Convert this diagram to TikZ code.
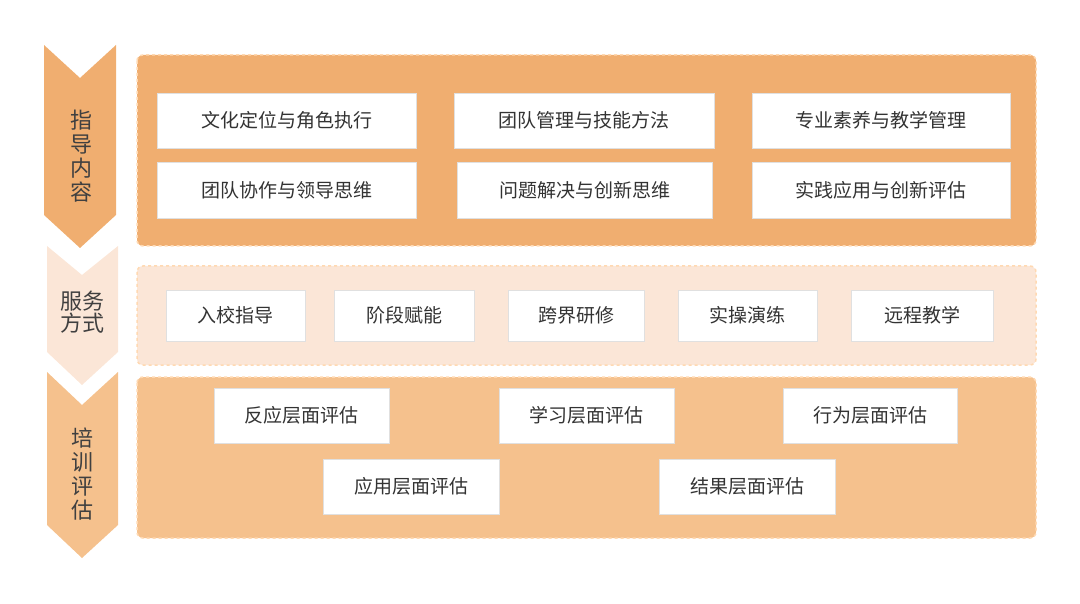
\documentclass[tikz,border=0pt]{standalone}
\usepackage{fontspec}
\setmainfont{Noto Sans CJK SC}
\usetikzlibrary{positioning}
\definecolor{deep}{HTML}{F0AE70}
\definecolor{pale}{HTML}{FBE6D7}
\definecolor{mid}{HTML}{F5C18D}
\begin{document}
\begin{tikzpicture}[x=1pt,y=-1pt]
                \tikzstyle{panel}=[draw=white!70!orange, dashed, line width=1.5pt, rounded corners=6pt]
                \tikzstyle{item}=[draw=black!12, fill=white, line width=0.8pt, font=\fontsize{19}{22}\selectfont, text=black!80, inner sep=0pt]
                \tikzstyle{side}=[font=\fontsize{22}{28}\selectfont, text=black!75, align=center]
                \useasboundingbox (0,0) rectangle (1080,604);
                % chevrons
                \fill[deep] (44,45) -- (80,78) -- (116,45) -- (116,215) -- (80,248) -- (44,215) -- cycle;
                \fill[pale] (47,246) -- (82,275) -- (118,246) -- (118,352) -- (82,385) -- (47,352) -- cycle;
                \fill[mid] (47,372) -- (82,405) -- (118,372) -- (118,525) -- (82,558) -- (47,525) -- cycle;
                \node[side] (s1) at (81,156){指\\[-4pt]导\\[-4pt]内\\[-4pt]容};
                \node[side] (s2) at (82,312){服务\\[-6pt]方式};
                \node[side] (s3) at (82,474){培\\[-4pt]训\\[-4pt]评\\[-4pt]估};
                % panels
                \draw[panel, fill=deep] (137,55) rectangle (1036,246);
                \draw[panel, fill=pale] (137,266) rectangle (1036,365);
                \draw[panel, fill=mid] (137,377) rectangle (1036,538);
                % content
                \node[item, minimum width=259, minimum height=55] (c1) at (286.5,120.5){文化定位与角色执行};
                \node[item, minimum width=260, minimum height=55] (c2) at (584,120.5){团队管理与技能方法};
                \node[item, minimum width=258, minimum height=55] (c3) at (881,120.5){专业素养与教学管理};
                \node[item, minimum width=259, minimum height=56] (c4) at (286.5,190){团队协作与领导思维};
                \node[item, minimum width=255, minimum height=56] (c5) at (584.5,190){问题解决与创新思维};
                \node[item, minimum width=258, minimum height=56] (c6) at (881,190){实践应用与创新评估};
                % service
                \node[item, minimum width=139, minimum height=51] (m1) at (235.5,315.5){入校指导};
                \node[item, minimum width=140, minimum height=51] (m2) at (404,315.5){阶段赋能};
                \node[item, minimum width=136, minimum height=51] (m3) at (576,315.5){跨界研修};
                \node[item, minimum width=139, minimum height=51] (m4) at (747.5,315.5){实操演练};
                \node[item, minimum width=142, minimum height=51] (m5) at (922,315.5){远程教学};
                % evaluation
                \node[item, minimum width=175, minimum height=55] (e1) at (301.5,415.5){反应层面评估};
                \node[item, minimum width=175, minimum height=55] (e2) at (586.5,415.5){学习层面评估};
                \node[item, minimum width=174, minimum height=55] (e3) at (870,415.5){行为层面评估};
                \node[item, minimum width=176, minimum height=55] (e4) at (411,486.5){应用层面评估};
                \node[item, minimum width=176, minimum height=55] (e5) at (747,486.5){结果层面评估};
\end{tikzpicture}
\end{document}
